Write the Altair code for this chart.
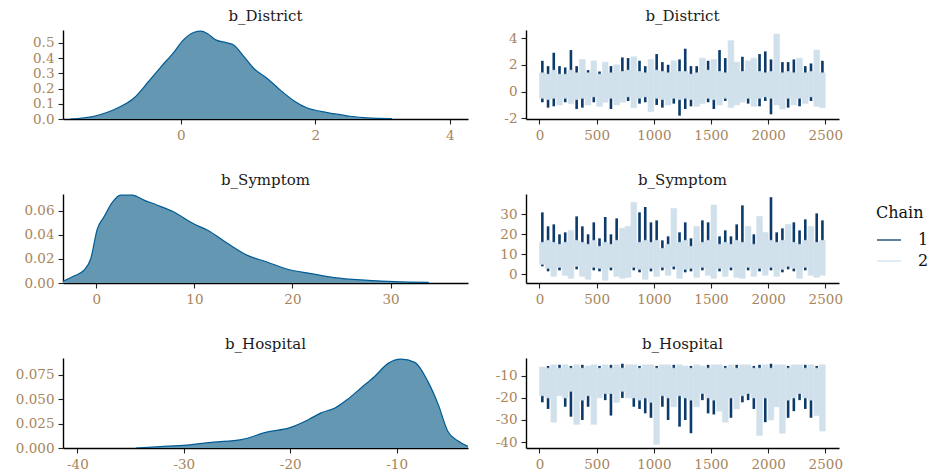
import altair as alt
import pandas as pd

# ---------------- density curves ----------------
district_x = [-1.64, -1.29, -0.94, -0.69, -0.49, -0.30, -0.10, 0.02, 0.20, 0.30, 0.40, 0.52, 0.69,
              0.79, 0.94, 1.09, 1.29, 1.48, 1.68, 1.88, 2.08, 2.27, 2.52, 2.77, 3.14]
district_d = [0.0, 0.018, 0.072, 0.14, 0.24, 0.34, 0.44, 0.51, 0.57, 0.577, 0.56, 0.52, 0.50,
              0.485, 0.41, 0.33, 0.265, 0.19, 0.12, 0.072, 0.05, 0.035, 0.018, 0.007, 0.002]

symptom_x = [-3.4, -2.28, -1.26, -0.58, 0.1, 0.78, 1.63, 2.48, 3.67, 4.86, 6.22, 7.9, 9.97, 11.3,
             13.4, 15.4, 17.4, 19.5, 21.9, 24.25, 27.7, 30.4, 33.9]
symptom_d = [0.0014, 0.0058, 0.0106, 0.020, 0.045, 0.055, 0.067, 0.073, 0.073, 0.0689, 0.0647, 0.059,
             0.049, 0.044, 0.0328, 0.023, 0.0175, 0.0114, 0.0078, 0.0044, 0.0022, 0.0011, 0.0005]

hospital_x = [-34.5, -32.2, -29.7, -27.2, -24.6, -22.1, -20.1, -18.3, -17.1, -15.8, -14.6, -13.3,
              -12.1, -10.8, -9.6, -8.3, -7.1, -6.1, -5.2, -4.3, -3.3]
hospital_d = [0.0, 0.0014, 0.003, 0.006, 0.0086, 0.0165, 0.0206, 0.029, 0.036, 0.041, 0.050, 0.062,
              0.073, 0.0867, 0.091, 0.0877, 0.0688, 0.0447, 0.0172, 0.0076, 0.0017]

# ---------------- trace: max / min of each chain in 50-iteration windows ----
district_c1_hi = [2.3, 1.9, 2.9, 1.9, 1.8, 3.1, 1.9, 1.2, 1.6, 1.0, 1.5, 1.0, 1.9, 1.2, 2.55, 2.5, 1.2,
                  2.3, 1.9, 1.1, 2.8, 2.2, 2.0, 1.3, 2.4, 3.2, 1.9, 1.9, 1.2, 2.3, 1.3, 3.1, 2.5, 2.0,
                  1.2, 2.6, 1.4, 1.1, 2.8, 3.0, 2.4, 1.3, 2.2, 2.2, 2.4, 1.2, 1.9, 2.1, 1.2, 2.3]
district_c1_lo = [-0.8, -1.2, -1.1, -0.2, -0.8, -0.3, -1.3, -1.2, -0.6, -0.8, -0.5, 0.0, -1.3, -0.3,
                  0.1, -0.7, -0.2, -0.9, -0.8, -0.5, -1.0, -1.2, -0.4, -0.9, -1.8, -1.3, -1.1, -0.2,
                  -0.3, -0.8, -1.3, -0.3, -0.7, -0.2, -0.5, -0.3, -0.9, -0.3, -1.1, -0.7, -1.7, -0.3,
                  -0.2, -1.2, -0.4, -1.1, -0.4, -0.7, -0.3, -0.6]
district_c2_hi = [1.4, 1.3, 1.6, 1.3, 1.3, 1.6, 1.4, 2.4, 1.4, 2.3, 1.3, 2.2, 1.4, 2.0, 1.5, 1.6, 2.6,
                  1.5, 1.4, 2.4, 1.6, 1.5, 1.4, 2.3, 1.5, 1.5, 1.3, 1.4, 2.5, 1.6, 2.4, 1.5, 1.4, 3.8,
                  2.2, 1.5, 2.3, 2.5, 1.5, 1.4, 1.5, 4.3, 1.4, 1.5, 1.4, 2.5, 1.4, 1.5, 3.1, 1.4]
district_c2_lo = [-0.5, -0.6, -0.5, -1.0, -0.5, -0.9, -0.6, -0.5, -1.0, -0.4, -1.1, -0.8, -0.5, -1.0,
                  -0.8, -0.4, -1.2, -0.5, -0.4, -1.5, -0.5, -0.6, -1.0, -0.5, -0.6, -0.5, -0.6, -1.1,
                  -0.9, -0.5, -0.6, -1.0, -0.5, -1.2, -1.0, -0.8, -0.5, -1.1, -0.5, -0.4, -0.5, -1.0,
                  -1.3, -0.5, -1.0, -0.5, -0.9, -0.4, -1.1, -1.2]

symptom_c1_hi = [31, 24, 25, 20, 21, 13, 29, 24, 20, 26, 18, 28.7, 20, 28, 12, 13, 14, 31, 33.7, 26,
                 27, 17, 19, 13, 21, 26, 18, 14, 27, 26, 13, 19, 22, 19, 25, 34.5, 14, 20, 14, 16,
                 38.6, 21, 23, 14, 26, 22, 27.5, 14, 30.5, 27]
symptom_c1_lo = [4, 1.5, 0.5, 2, 1, 0, 2.5, 1, 0.5, 2, 1.5, 0, 2, 1, -1, 0.5, 2, 1, 0.5, 1.5, 0, 2, 1,
                 2.5, 0.5, 1, 1.5, 0, 2, 1, 0.5, 1.5, 1, 2, 0, 1, 2, 0.5, 1.5, 1, 2, 0.5, 1, 2.5, 1.5,
                 0.5, 2, 1, 0, 4.5]
symptom_c2_hi = [16, 17, 16, 15, 16, 22, 17, 16, 15, 17, 14, 16, 15, 17, 23, 24, 36, 16, 17, 16, 17,
                 13, 15, 33, 16, 17, 14, 24, 16, 17, 34.7, 15, 16, 15, 17, 16, 24, 15, 29, 21, 17, 16,
                 17, 25, 16, 15, 17, 24, 16, 17]
symptom_c2_lo = [5, 3, -1, 3.5, -0.5, -2, 4, -1, -2.5, 3.5, 3, -3, 3.5, -1, -2, -1.5, 3.5, 2.5, -2.5,
                 3, -1, 3.5, -0.5, 4, -2, 2.5, 3, -1.5, 3.5, -0.5, -2, 3, -1, 3.5, -1.5, -2, 3.5, -1,
                 3, -0.5, 3.5, -1, 2.5, 4, 3, -2, 3.5, -0.5, -1.5, -0.5]

hospital_c1_hi = [-10, -5.5, -6, -5, -7, -5.5, -6.5, -5, -6, -7, -5.5, -6, -5, -6.5, -4.5, -6, -7,
                  -5.5, -6, -7.5, -5.5, -6, -7, -5, -6.5, -6, -5.5, -7.5, -6, -5, -6.5, -7, -5.5, -6,
                  -5, -6.5, -7, -5.5, -5, -6, -4.5, -6.5, -7, -5.5, -6, -7, -5, -6.5, -5.5, -6]
hospital_c1_lo = [-22, -25, -20, -16, -24, -28.5, -17, -30, -24, -23, -18, -21, -28, -14, -20, -15,
                  -24, -25, -27, -29, -17, -24, -30, -19, -33, -30, -36, -17, -21, -27, -27.5, -18,
                  -25, -29, -17, -22, -21, -25, -20, -31, -16, -18, -15, -29, -26, -21, -25, -29,
                  -23, -25]
hospital_c2_hi = [-6, -6.5, -5, -6.5, -5, -6.5, -5, -6.5, -5.5, -5, -6.5, -5, -6.5, -5, -6.5, -5, -5,
                  -6.5, -5, -5, -6.5, -5, -5, -6.5, -5, -5.5, -6.5, -5, -5.5, -6.5, -5, -5, -6.5, -5,
                  -6.5, -5, -5, -6.5, -6.5, -5, -6.5, -5, -5, -6.5, -5, -5, -6.5, -5, -6.5, -5]
hospital_c2_lo = [-19, -20, -31, -19, -20, -17, -32, -21, -19, -32, -20, -18, -18, -22, -17, -20,
                  -20, -21, -20, -22, -41, -19, -20, -24, -19, -20, -21, -24, -18, -20, -21, -26,
                  -31, -20, -25, -19, -18, -20, -37, -20, -30, -24, -36, -21, -20, -18, -20, -21,
                  -28, -35]

WINDOW = 50
iter_ticks = [0, 500, 1000, 1500, 2000, 2500]

# ---------------- styling ----------------
FONT = "DejaVu Serif"
FILL = "#6497b1"
EDGE = "#005b96"
DARK = "#0b3a6b"
LIGHT = "#d1e1ec"
TICK_LABEL = "#a8845c"

LEFT_W, RIGHT_W = 405, 313


def density_panel(title, xs, ds, xdom, xticks, ydom, yticks, yfmt, h):
    df = pd.DataFrame({"x": xs, "d": ds})
    return alt.Chart(df).mark_area(
        color=FILL, opacity=1, interpolate="monotone", clip=True,
        line={"color": EDGE, "strokeWidth": 1.2},
    ).encode(
        x=alt.X("x:Q", scale=alt.Scale(domain=xdom, nice=False, zero=False),
                axis=alt.Axis(values=xticks, title=None, labelExpr="toString(datum.value)")),
        y=alt.Y("d:Q", scale=alt.Scale(domain=ydom, nice=False),
                axis=alt.Axis(values=yticks, format=yfmt, title=None)),
    ).properties(width=LEFT_W, height=h, title=title)


legend = alt.Legend(
    title="Chain", orient="none", legendX=813, legendY=175,
    symbolType="stroke", symbolSize=576, symbolStrokeWidth=1.3,
    titleFont=FONT, titleFontSize=16, titleFontWeight="normal", titleColor="#111",
    labelFont=FONT, labelFontSize=16, labelColor="#111", labelOffset=16,
    rowPadding=0, titlePadding=6,
)


def trace_panel(title, c1_hi, c1_lo, c2_hi, c2_lo, ydom, yticks, h):
    rows = []
    for chain, hi, lo in (("1", c1_hi, c1_lo), ("2", c2_hi, c2_lo)):
        for k, (a, b) in enumerate(zip(hi, lo)):
            rows.append({"start": k * WINDOW, "end": (k + 1) * WINDOW, "mid": k * WINDOW + WINDOW / 2,
                         "hi": a, "lo": b, "chain": chain})
    df = pd.DataFrame(rows)
    xs = alt.Scale(domain=[-118, 2620], nice=False, zero=False)
    ys = alt.Scale(domain=ydom, nice=False, zero=False)
    xaxis = alt.Axis(values=iter_ticks, title=None, labelExpr="toString(datum.value)")
    yaxis = alt.Axis(values=yticks, title=None, labelExpr="toString(datum.value)")
    color = alt.Color("chain:N", scale=alt.Scale(domain=["1", "2"], range=[DARK, LIGHT]), legend=legend)
    base = alt.Chart(df)
    dark = base.transform_filter("datum.chain == '1'").mark_rule(strokeWidth=2.6, clip=True).encode(
        x=alt.X("mid:Q", scale=xs, axis=xaxis),
        y=alt.Y("lo:Q", scale=ys, axis=yaxis),
        y2="hi:Q",
        color=color,
    )
    light = base.transform_filter("datum.chain == '2'").mark_bar(
        clip=True, strokeWidth=0.6, stroke=LIGHT).encode(
        x=alt.X("start:Q", scale=xs, axis=xaxis),
        x2="end:Q",
        y=alt.Y("lo:Q", scale=ys, axis=yaxis),
        y2="hi:Q",
        color=color,
    )
    return alt.layer(dark, light).properties(width=RIGHT_W, height=h, title=title)


panels = [
    density_panel("b_District", district_x, district_d, [-1.75, 4.27], [0, 2, 4],
                  [0, 0.585], [0, 0.1, 0.2, 0.3, 0.4, 0.5], ".1f", 89),
    trace_panel("b_District", district_c1_hi, district_c1_lo, district_c2_hi, district_c2_lo,
                [-2.05, 4.6], [-2, 0, 2, 4], 89),
    density_panel("b_Symptom", symptom_x, symptom_d, [-3.4, 37.9], [0, 10, 20, 30],
                  [0, 0.074], [0, 0.02, 0.04, 0.06], ".2f", 89),
    trace_panel("b_Symptom", symptom_c1_hi, symptom_c1_lo, symptom_c2_hi, symptom_c2_lo,
                [-4.35, 40.2], [0, 10, 20, 30], 89),
    density_panel("b_Hospital", hospital_x, hospital_d, [-41.35, -3.3], [-40, -30, -20, -10],
                  [0, 0.0922], [0, 0.025, 0.05, 0.075], ".3f", 90),
    trace_panel("b_Hospital", hospital_c1_hi, hospital_c1_lo, hospital_c2_hi, hospital_c2_lo,
                [-42.7, -1.9], [-40, -30, -20, -10], 90),
]

chart = alt.concat(
    *panels, columns=2, spacing={"row": 75, "column": 58}, bounds="flush"
).properties(
    padding={"left": 15, "top": 9, "right": 0, "bottom": 0}
).configure(font=FONT).configure_view(stroke=None).configure_axis(
    grid=False, domainColor="#000", domainWidth=1.4, tickColor="#222", tickSize=5, tickWidth=1.1,
    labelColor=TICK_LABEL, labelFont=FONT, labelFontSize=13.5, labelPadding=4,
).configure_title(
    font=FONT, fontSize=15, fontWeight="normal", color="#1a1a1a", anchor="middle", offset=6,
)

chart.save("out.html", embed_options={"renderer": "svg", "actions": False})
